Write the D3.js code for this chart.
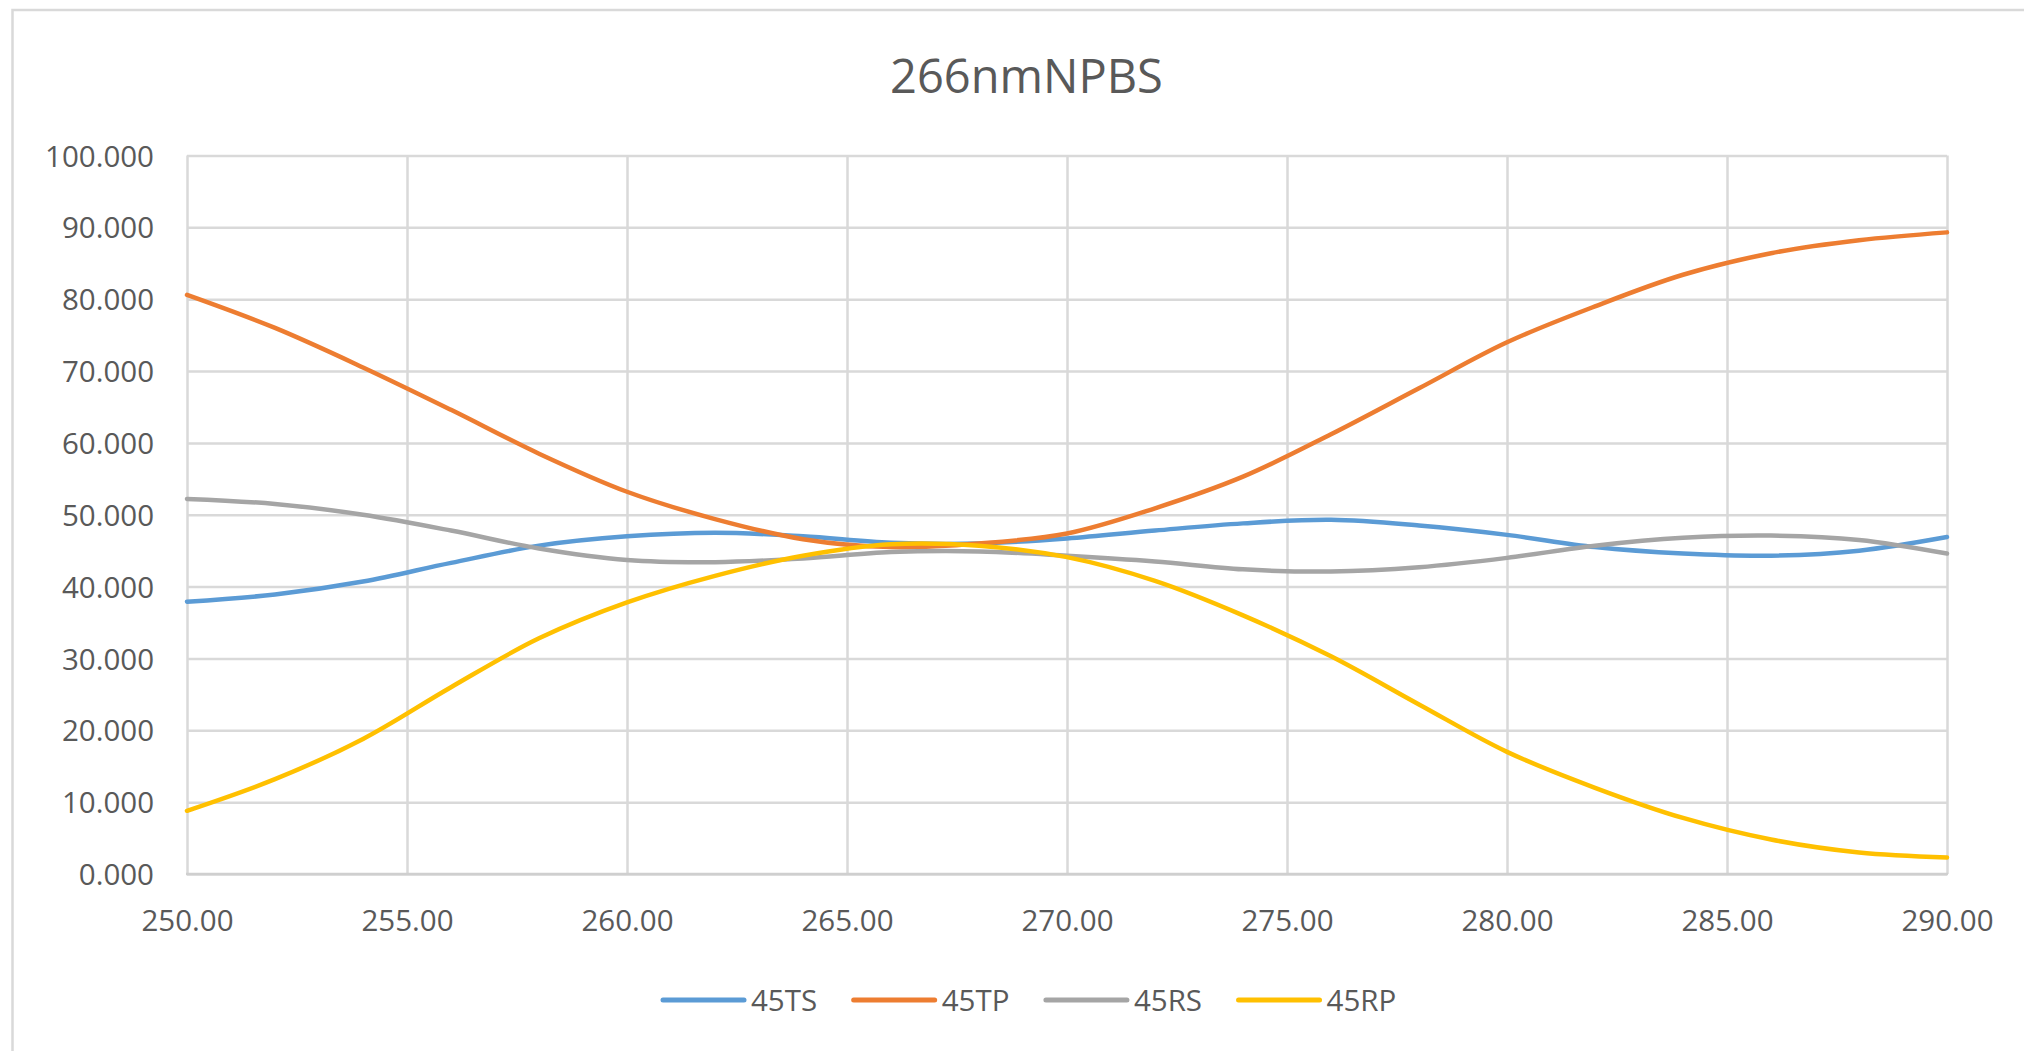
<!DOCTYPE html>
<html>
<head>
<meta charset="utf-8">
<script src="https://cdn.jsdelivr.net/npm/d3@7"></script>
<style>
  html, body { margin: 0; padding: 0; background: #fff; }
  svg { display: block; }
  text { font-family: "Open Sans", "Noto Sans", sans-serif; fill: #595959; }
</style>
</head>
<body>
<svg id="chart" width="2024" height="1051"></svg>
<script>
const title = "266nmNPBS";
const wavelengths = [250,252,254,256,258,260,262,264,266,268,270,272,274,276,278,280,282,284,286,288,290];
const ts45 = [37.9,38.9,40.7,43.3,45.7,47.0,47.5,47.0,46.1,46.0,46.7,47.8,48.8,49.3,48.5,47.2,45.5,44.6,44.3,45.0,46.9];
const tp45 = [80.6,76.0,70.5,64.6,58.5,53.2,49.4,46.6,45.5,46.0,47.4,50.9,55.3,61.2,67.6,74.0,79.0,83.4,86.4,88.2,89.3];
const rs45 = [52.2,51.5,50.0,47.8,45.3,43.7,43.4,43.9,44.8,44.9,44.3,43.5,42.4,42.1,42.7,44.0,45.7,46.8,47.1,46.5,44.6];
const rp45 = [8.8,13.2,18.8,26.0,32.8,37.8,41.5,44.3,45.9,45.7,44.1,40.8,36.0,30.3,23.6,17.0,12.0,7.8,4.8,3.0,2.3];
const seriesNames = ["45TS","45TP","45RS","45RP"];
const seriesColors = ["#5B9BD5","#ED7D31","#A5A5A5","#FFC000"];
const xTicks = [250,255,260,265,270,275,280,285,290];
const yTicks = [0,10,20,30,40,50,60,70,80,90,100];

const seriesValues = [ts45, tp45, rs45, rp45];
const series = seriesNames.map((name, i) => ({
  name, color: seriesColors[i],
  points: wavelengths.map((w, j) => ({x: w, y: seriesValues[i][j]}))
}));

const svg = d3.select("#chart");
const plot = {left: 187, right: 1947, top: 155.5, bottom: 874};

// outer chart border
svg.append("rect")
  .attr("x", 12.5).attr("y", 10).attr("width", 2100).attr("height", 1100)
  .attr("fill", "none").attr("stroke", "#d9d9d9").attr("stroke-width", 2.5);

const x = d3.scaleLinear().domain([250, 290]).range([plot.left, plot.right]);
const y = d3.scaleLinear().domain([0, 100]).range([plot.bottom, plot.top]);

// title
svg.append("text")
  .attr("x", 1026.5).attr("y", 93)
  .attr("text-anchor", "middle")
  .style("font-size", "47px")
  .text(title);

// gridlines - horizontal
const yAxis = d3.axisLeft(y).tickValues(yTicks)
  .tickSize(-(plot.right - plot.left)).tickPadding(33)
  .tickFormat(d3.format(".3f"));
const gy = svg.append("g").attr("transform", `translate(${plot.left},0)`).call(yAxis);
gy.select(".domain").remove();
gy.selectAll(".tick line").attr("stroke", "#d9d9d9").attr("stroke-width", 2.5);
gy.selectAll(".tick text").style("font-size", "29.5px").attr("fill", "#595959")
  .attr("font-family", null).attr("dy", "0.36em");

// gridlines - vertical
const xAxis = d3.axisBottom(x).tickValues(xTicks)
  .tickSize(-(plot.bottom - plot.top)).tickPadding(0)
  .tickFormat(d3.format(".2f"));
const gx = svg.append("g").attr("transform", `translate(0,${plot.bottom})`).call(xAxis);
gx.select(".domain").remove();
gx.selectAll(".tick line").attr("stroke", "#d9d9d9").attr("stroke-width", 2.5);
gx.selectAll(".tick text").style("font-size", "29.5px").attr("fill", "#595959")
  .attr("font-family", null).attr("y", 57).attr("dy", 0);

// bottom axis line
svg.append("line")
  .attr("x1", plot.left - 1).attr("x2", plot.right + 1)
  .attr("y1", plot.bottom).attr("y2", plot.bottom)
  .attr("stroke", "#cfcfcf").attr("stroke-width", 2.5);

// series lines
const line = d3.line().x(d => x(d.x)).y(d => y(d.y)).curve(d3.curveCatmullRom.alpha(0.5));
svg.append("g").selectAll("path").data(series).join("path")
  .attr("d", d => line(d.points))
  .attr("fill", "none")
  .attr("stroke", d => d.color)
  .attr("stroke-width", 4.5)
  .attr("stroke-linejoin", "round")
  .attr("stroke-linecap", "round");

// legend
const legend = svg.append("g");
let lx = 663;
const ly = 1000;
series.forEach(s => {
  legend.append("line")
    .attr("x1", lx).attr("x2", lx + 81).attr("y1", ly).attr("y2", ly)
    .attr("stroke", s.color).attr("stroke-width", 5).attr("stroke-linecap", "round");
  const t = legend.append("text")
    .attr("x", lx + 88).attr("y", ly + 11)
    .style("font-size", "29.5px")
    .text(s.name);
  const w = t.node().getComputedTextLength();
  lx = lx + 88 + w + 36.5;
});
</script>
</body>
</html>
